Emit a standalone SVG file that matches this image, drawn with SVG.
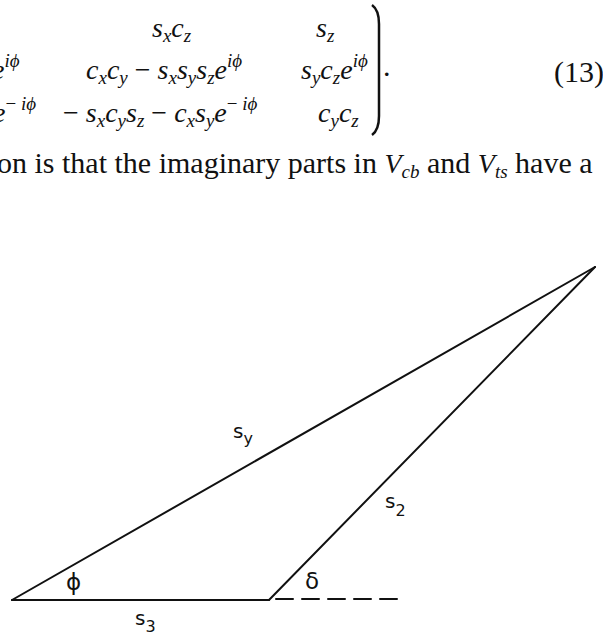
<svg xmlns="http://www.w3.org/2000/svg" width="603" height="635" viewBox="0 0 603 635">
<style>
.m{font-family:"Liberation Serif",serif;font-style:italic;font-size:28px;fill:#111}
.u{font-style:normal}
.s{font-size:19px}
.t{font-family:"Liberation Serif",serif;font-size:30px;fill:#111}
.lbl{font-family:"DejaVu Sans","Liberation Sans",sans-serif;font-size:20px;fill:#111}
.ls{font-size:16px}
.gr{font-family:"DejaVu Sans","Liberation Sans",sans-serif;font-size:23px;fill:#111}
.edge{stroke:#111;stroke-width:2;fill:none;stroke-linecap:round;stroke-linejoin:round}
</style>
<rect width="603" height="635" fill="#fff"/>
<g id="equation">
<text class="m" x="152" y="37">s<tspan class="s" dy="5">x</tspan><tspan dy="-5">c</tspan><tspan class="s" dy="5">z</tspan></text>
<text class="m" x="316" y="37">s<tspan class="s" dy="5">z</tspan></text>
<text class="m" x="-8" y="79">e<tspan class="s" dy="-12">iϕ</tspan></text>
<text class="m" x="86" y="79">c<tspan class="s" dy="5">x</tspan><tspan dy="-5">c</tspan><tspan class="s" dy="5">y</tspan><tspan class="u" dy="-5"> − </tspan>s<tspan class="s" dy="5">x</tspan><tspan dy="-5">s</tspan><tspan class="s" dy="5">y</tspan><tspan dy="-5">s</tspan><tspan class="s" dy="5">z</tspan><tspan dy="-5">e</tspan><tspan class="s" dy="-12">iϕ</tspan></text>
<text class="m" x="301" y="79">s<tspan class="s" dy="5">y</tspan><tspan dy="-5">c</tspan><tspan class="s" dy="5">z</tspan><tspan dy="-5">e</tspan><tspan class="s" dy="-12">iϕ</tspan></text>
<text class="t" x="383" y="76">.</text>
<text class="t" x="554" y="82">(13)</text>
<text class="m" x="-7" y="122">e<tspan class="s u" dy="-12">− </tspan><tspan class="s">iϕ</tspan></text>
<text class="m" x="63" y="122"><tspan class="u">− </tspan>s<tspan class="s" dy="5">x</tspan><tspan dy="-5">c</tspan><tspan class="s" dy="5">y</tspan><tspan dy="-5">s</tspan><tspan class="s" dy="5">z</tspan><tspan class="u" dy="-5"> − </tspan>c<tspan class="s" dy="5">x</tspan><tspan dy="-5">s</tspan><tspan class="s" dy="5">y</tspan><tspan dy="-5">e</tspan><tspan class="s u" dy="-12">− </tspan><tspan class="s">iϕ</tspan></text>
<text class="m" x="318" y="122">c<tspan class="s" dy="5">y</tspan><tspan dy="-5">c</tspan><tspan class="s" dy="5">z</tspan></text>
<path d="M372 5 Q379 10 379 24 L379 116 Q379 130 372 135" stroke="#111" stroke-width="2.5" fill="none"/>
<text class="t" x="-3" y="173">on is that the imaginary parts in <tspan class="m">V</tspan><tspan class="m s" dy="5">cb</tspan><tspan dy="-5"> and </tspan><tspan class="m">V</tspan><tspan class="m s" dy="5">ts</tspan><tspan dy="-5"> have a</tspan></text>
</g>
<g id="connectors">
<path id="edge-sy" class="edge" d="M12 600 L595 267"/>
<path id="edge-s2" class="edge" d="M269 600 L595 267"/>
<path id="edge-s3" class="edge" d="M12 600 L269 600"/>
<path id="edge-dash" class="edge" d="M276 599 L403 599" stroke-dasharray="17 9" stroke-linecap="butt"/>
</g>
<g id="labels">
<text class="lbl" x="233" y="438">s<tspan class="ls" dy="6">y</tspan></text>
<text class="lbl" x="385" y="508">s<tspan class="ls" dy="8">2</tspan></text>
<text class="lbl" x="135" y="625">s<tspan class="ls" dy="7">3</tspan></text>
<text class="gr" x="66" y="590">ϕ</text>
<text class="gr" x="305" y="589">δ</text>
</g>
</svg>
